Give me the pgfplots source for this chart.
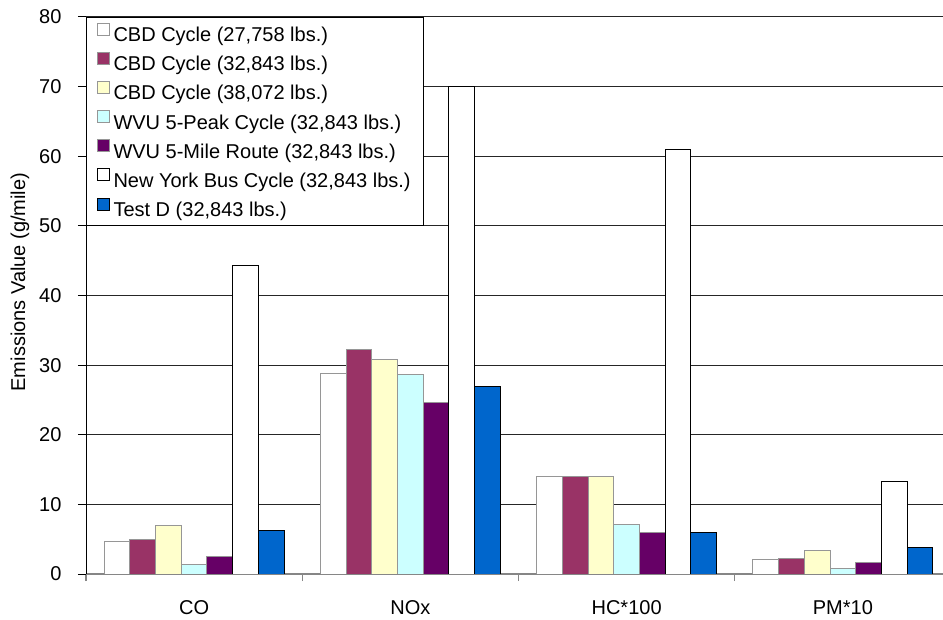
\documentclass[border=0pt]{standalone}
\usepackage{fontspec}
\setmainfont{Liberation Sans}
\usepackage{pgfplots}
\pgfplotsset{compat=1.18}

\definecolor{cbdmaroon}{HTML}{993366}
\definecolor{cbdyellow}{HTML}{FFFFCC}
\definecolor{wvucyan}{HTML}{CCFFFF}
\definecolor{wvuplum}{HTML}{660066}
\definecolor{testblue}{HTML}{0066CC}
\definecolor{edgegray}{HTML}{969696}
\definecolor{axisgray}{HTML}{868686}

\newcommand{\chartfont}{\fontsize{20bp}{24bp}\selectfont}

\pgfplotsset{
  sq legend/.style={legend image code/.code={
      \draw[##1, line width=1bp] (0bp,-1bp) rectangle (12bp,11bp);}},
}

\begin{document}
\begin{tikzpicture}
\begin{axis}[
  at={(86bp,46bp)}, anchor=south west,
  scale only axis, width=865bp, height=557bp,
  xmin=-0.5, xmax=3.5, ymin=0, ymax=80,
  ybar=0pt, bar width=25.7bp,
  axis x line*=bottom, axis y line*=left,
  x axis line style={axisgray, line width=1.3bp, -},
  y axis line style={black, line width=1bp, -},
  ymajorgrids, grid style={black!85, line width=1bp},
  ytick={0,10,...,80},
  xtick={0,1,2,3}, xticklabels={CO,NOx,HC*100,PM*10},
  major x tick style={draw=none},
  minor xtick={-0.5,0.5,1.5,2.5},
  minor x tick style={axisgray, line width=1.3bp},
  minor tick length=7bp,
  major y tick style={black, line width=1bp},
  major tick length=8bp,
  tick align=outside,
  tick label style={font=\chartfont},
  /pgf/number format/assume math mode=true,
  xticklabel style={anchor=base, yshift=-32bp},
  yticklabel style={anchor=east, xshift=-13bp},
  ylabel={Emissions Value (g/mile)},
  ylabel style={font=\chartfont, at={(axis description cs:-0.0763,0.524)}, anchor=center},
  every axis plot/.append style={line width=1bp},
  legend cell align=left,
  legend style={at={(0,1)}, anchor=north west, draw=black, line width=1bp, fill=white,
    font=\chartfont, inner xsep=10bp, inner ysep=5bp, row sep=6.17bp, column sep=1bp,
    nodes={text height=19bp, text depth=4bp, inner xsep=3bp, inner ysep=0bp}},
]
\addplot[draw=edgegray, fill=white, sq legend]
  coordinates {(0,4.6) (1,28.8) (2,14.0) (3,2.1)};
\addplot[draw=edgegray, fill=cbdmaroon, sq legend]
  coordinates {(0,5.0) (1,32.3) (2,14.0) (3,2.2)};
\addplot[draw=edgegray, fill=cbdyellow, sq legend]
  coordinates {(0,6.9) (1,30.8) (2,14.0) (3,3.4)};
\addplot[draw=edgegray, fill=wvucyan, sq legend]
  coordinates {(0,1.3) (1,28.7) (2,7.1) (3,0.8)};
\addplot[draw=edgegray, fill=wvuplum, sq legend]
  coordinates {(0,2.5) (1,24.7) (2,6.0) (3,1.7)};
\addplot[draw=black, fill=white, sq legend]
  coordinates {(0,44.3) (1,70.0) (2,61.0) (3,13.3)};
\addplot[draw=black, fill=testblue, sq legend]
  coordinates {(0,6.3) (1,26.9) (2,6.0) (3,3.8)};
\legend{{CBD Cycle (27,758 lbs.)},
        {CBD Cycle (32,843 lbs.)},
        {CBD Cycle (38,072 lbs.)},
        {WVU 5-Peak Cycle (32,843 lbs.)},
        {WVU 5-Mile Route (32,843 lbs.)},
        {New York Bus Cycle (32,843 lbs.)},
        {Test D (32,843 lbs.)}}
\end{axis}
\pgfresetboundingbox
\path[use as bounding box] (0,0) rectangle (943bp,620bp);
\end{tikzpicture}
\end{document}
